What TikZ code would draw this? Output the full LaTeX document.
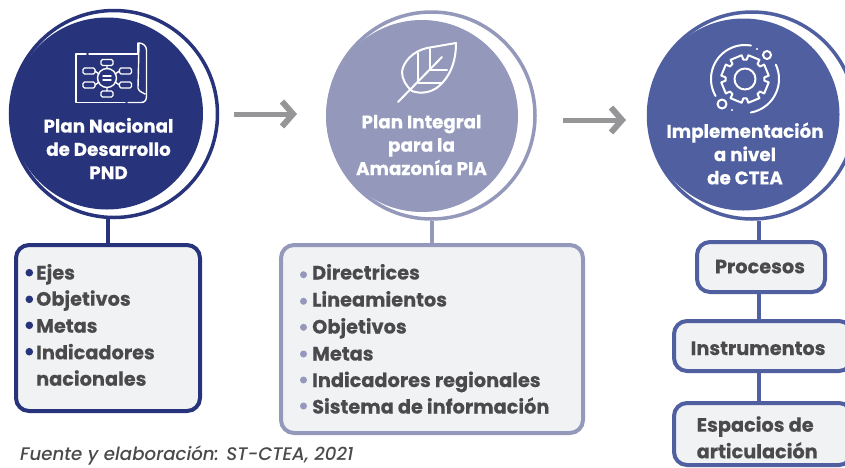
\documentclass[tikz,border=0pt]{standalone}
\usepackage{fontspec}
\setmainfont{Poppins}[BoldFeatures={FakeBold=0.25}]
\newfontfamily\srcfont{Poppins Medium Italic}
\usetikzlibrary{arrows.meta}
\definecolor{navy}{HTML}{27337A}
\definecolor{lav}{HTML}{9499BB}
\definecolor{mid}{HTML}{4F5FA0}
\definecolor{boxbg}{HTML}{F1F2F4}
\definecolor{txt}{HTML}{4A4A4C}
\definecolor{arrowgray}{HTML}{969698}
\tikzset{
  ringc/.style={circle,draw=#1,line width=3.5pt,fill=white,minimum size=207pt,inner sep=0pt},
  disc/.style={circle,fill=#1,minimum size=192pt,inner sep=0pt},
  title/.style={text=white,font=\fontsize{18.3}{23.3}\selectfont\bfseries,align=center},
  panel/.style={draw=#1,line width=4pt,fill=boxbg,rounded corners=13pt,inner sep=0pt},
  item/.style={text=txt,font=\fontsize{19.3}{26.5}\selectfont\bfseries,anchor=base west,inner sep=0pt,align=left},
  stem/.style={draw=#1,line width=3.5pt},
  icon/.style={white,line width=1.4pt,line cap=round,line join=round},
  thickicon/.style={white,line width=2pt,line cap=round,line join=round},
  pointer/.style={arrowgray,line width=5pt,-{Straight Barb[length=11pt,width=25pt,line width=6pt]}}
}
\begin{document}
\begin{tikzpicture}[x=1pt,y=-1pt]
\useasboundingbox (0,0) rectangle (845,467);
\clip (0,0) rectangle (845,467);
% boxes
\node[panel=navy,minimum width=184pt,minimum height=166pt] (b1) at (108,328) {};
\node[panel=lav,minimum width=302pt,minimum height=188pt] (b2) at (432,339) {};
\node[panel=mid,minimum width=128pt,minimum height=50pt] (p1) at (761,267) {};
\node[panel=mid,minimum width=178pt,minimum height=50pt] (p2) at (763,346) {};
\node[panel=mid,minimum width=178pt,minimum height=62pt] (p3) at (763,434) {};
% rings and discs
\node[ringc=navy] (r1) at (114,114) {};
\node[disc=navy] (d1) at (107,113.5) {};
\node[ringc=lav] (r2) at (431.5,115.5) {};
\node[disc=lav] (d2) at (422,116) {};
\node[ringc=mid] (r3) at (752,115.5) {};
\node[disc=mid] (d3) at (743.5,114.5) {};
% stems
\coordinate (s3) at (759,242);
\coordinate (s4) at (759,292);
\coordinate (s5) at (759,321);
\coordinate (s6) at (759,371);
\coordinate (s7) at (759,403);
\draw[stem=navy] (b1.north) -- (b1.north |- r1.south);
\draw[stem=lav] (b2.north) -- (b2.north |- r2.south);
\draw[stem=mid] (s3) -- (s3 |- r3.south);
\draw[stem=mid] (s4) -- (s5);
\draw[stem=mid] (s6) -- (s7);
% arrows
\coordinate (a1s) at (234,114);
\coordinate (a1e) at (297,114);
\coordinate (a2s) at (563,120);
\coordinate (a2e) at (626,120);
\draw[pointer] (a1s) -- (a1e);
\draw[pointer] (a2s) -- (a2e);
% titles
\node[title] (t1) at (108.5,148.5) {Plan Nacional\\de Desarrollo\\PND};
\node[title] (t2) at (421.5,145) {Plan Integral\\para la\\Amazonía PIA};
\node[title] (t3) at (745,153.5) {Implementación\\a nivel\\de CTEA};
% list 1
\foreach \yy in {272.7,299.3,325.3,351.7} {\fill[navy] (29.3,\yy) circle[radius=3.8];}
\node[item] (l1a) at (36,279.5) {Ejes};
\node[item] (l1b) at (36,305.7) {Objetivos};
\node[item] (l1c) at (36,332.7) {Metas};
\node[item] (l1d) at (36,359.3) {Indicadores};
\node[item] (l1e) at (36,385.7) {nacionales};
% list 2
\foreach \yy in {274.7,301.3,327.3,354,380,406} {\fill[lav] (303.5,\yy) circle[radius=3.5];}
\node[item] (l2a) at (312,279.5) {Directrices};
\node[item] (l2b) at (312,306.5) {Lineamientos};
\node[item] (l2c) at (312,333.5) {Objetivos};
\node[item] (l2d) at (312,360.5) {Metas};
\node[item] (l2e) at (312,387) {Indicadores regionales};
\node[item] (l2f) at (312,413.5) {Sistema de información};
% right boxes
\node[item,anchor=base] (l3a) at (760,273.3) {Procesos};
\node[item] (l3b) at (690.5,355) {Instrumentos};
\node[item] (l3c) at (696.5,431.7) {Espacios de};
\node[item] (l3d) at (696.5,458.3) {articulación};
% footer
\node[text=txt,font=\fontsize{18.2}{20}\selectfont\srcfont,anchor=base west,inner sep=0pt] (src) at (20,460.5) {Fuente y elaboración: ST-CTEA, 2021};
% icon 1: plan
\draw[icon] (86,54) -- (76,54) -- (76,102.5) -- (125,102.5);
\draw[icon] (89,54) -- (138,54);
\draw[icon] (128,102.5) -- (141,102.5) .. controls (145,102.5) and (146.5,100) .. (146.5,96) -- (146.5,50) .. controls (146.5,46) and (143,43) .. (139,43) -- (138,88) .. controls (139,92) and (142,92) .. (145,94);
\draw[icon] (138,43) -- (138,54);
\draw[icon] (107,78) circle[radius=9.5];
\draw[icon] (103,76) -- (111,76) (103,80) -- (111,80);
\foreach \cx/\cy in {107/62.5,107/94,89/71,89/85,125.5/71,125.5/85} {
  \draw[icon,rounded corners=1.5pt] (\cx-6,\cy-3) rectangle (\cx+6,\cy+3);
}
\draw[icon] (107,65.5) -- (107,68.5) (107,87.5) -- (107,91) (95,71) -- (99,74) (95,85) -- (99,82) (119.5,71) -- (115,74) (119.5,85) -- (115,82);
% icon 2: leaf
\draw[thickicon] (456,43) -- (427,48) .. controls (413,51) and (403,62) .. (402,72) .. controls (402,79) and (406,86) .. (412,91) .. controls (420,94) and (430,93) .. (438,87) .. controls (450,77) and (456,62) .. (456,43) -- cycle;
\draw[thickicon] (398,102) -- (442,57);
\draw[thickicon] (418,82.5) -- (418,53) (430,70) -- (430,49) (430,70) -- (447,70) (418,82.5) -- (442,82.5);
% icon 3: gear
\begin{scope}[shift={(745,79)}]
\draw[thickicon] (0,0) circle[radius=10.5];
\draw[thickicon] (5:19.5) \foreach \k in {0,1,...,7} {
  -- (\k*45+8:24) -- (\k*45+37:24) -- (\k*45+40:19.5) -- (\k*45+50:19.5)
} -- cycle;
\draw[thickicon] (-80:34) arc[start angle=-80,end angle=-210,radius=34];
\draw[thickicon] (80:34) arc[start angle=80,end angle=-25,radius=34];
\end{scope}
\draw[thickicon] (767,55) circle[radius=4];
\draw[thickicon] (722,104) circle[radius=4.5];
\fill[white] (757,49) circle[radius=1.2] (732,110) circle[radius=1.2];
\end{tikzpicture}
\end{document}
